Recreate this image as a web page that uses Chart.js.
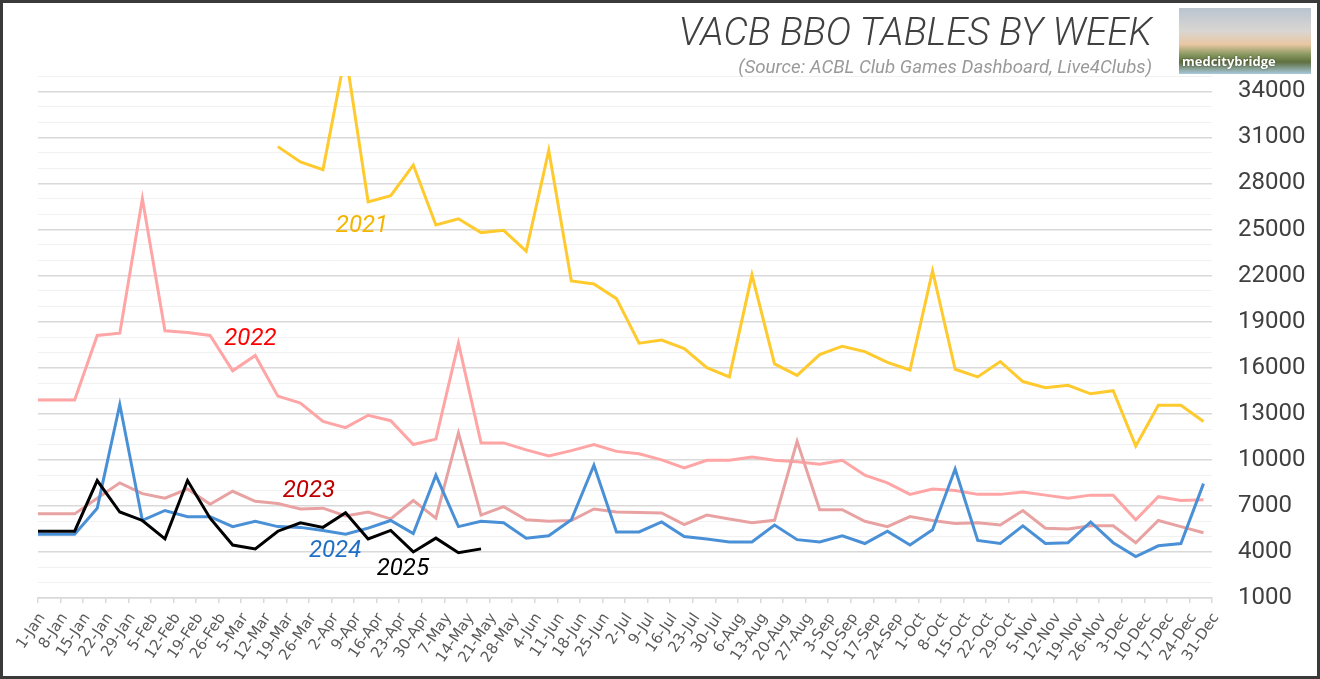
<!DOCTYPE html>
<html>
<head>
<meta charset="utf-8">
<title>VACB BBO Tables by Week</title>
<script src="https://cdn.jsdelivr.net/npm/chart.js@4.4.0/dist/chart.umd.min.js"></script>
<style>
  html, body { margin: 0; padding: 0; background: #fff; }
  #frame {
    position: relative; width: 1320px; height: 679px;
    box-sizing: border-box; border: 3px solid #3a3a3a;
    background: #fff; overflow: hidden;
  }
  #chart { position: absolute; left: 0; top: 0; }
  .title {
    position: absolute; right: 165px; top: 10px;
    font: italic 300 38.5px/38px Roboto, sans-serif; color: #404040;
    white-space: nowrap;
  }
  .source {
    position: absolute; right: 165px; top: 55px;
    font: italic 18.7px/19px Roboto, sans-serif; color: #9a9a9a;
    white-space: nowrap;
  }
  .logo {
    position: absolute; left: 1176px; top: 5px; width: 132px; height: 66px;
    background: linear-gradient(180deg, #b9c4d0 0%, #d9d6d2 35%, #e9c7a3 55%, #8a9a62 70%, #5f7040 82%, #a9c9dc 100%);
    overflow: hidden;
  }
  .logo span {
    position: absolute; left: 3px; bottom: 4px;
    font: bold 13px 'Open Sans', sans-serif; color: #fff;
    text-shadow: 0 0 2px rgba(0,0,0,0.5);
  }
</style>
</head>
<body>
<div id="frame">
  <canvas id="chart" width="1314" height="673"></canvas>
  <div class="title">VACB BBO TABLES BY WEEK</div>
  <div class="source">(Source: ACBL Club Games Dashboard, Live4Clubs)</div>
  <div class="logo"><span>medcitybridge</span></div>
</div>
<script>
// Week labels on the x axis
const weeks = ['1-Jan', '8-Jan', '15-Jan', '22-Jan', '29-Jan', '5-Feb', '12-Feb', '19-Feb', '26-Feb',
  '5-Mar', '12-Mar', '19-Mar', '26-Mar', '2-Apr', '9-Apr', '16-Apr', '23-Apr', '30-Apr',
  '7-May', '14-May', '21-May', '28-May', '4-Jun', '11-Jun', '18-Jun', '25-Jun',
  '2-Jul', '9-Jul', '16-Jul', '23-Jul', '30-Jul', '6-Aug', '13-Aug', '20-Aug', '27-Aug',
  '3-Sep', '10-Sep', '17-Sep', '24-Sep', '1-Oct', '8-Oct', '15-Oct', '22-Oct', '29-Oct',
  '5-Nov', '12-Nov', '19-Nov', '26-Nov', '3-Dec', '10-Dec', '17-Dec', '24-Dec', '31-Dec'];

// Labelled ticks on the right axis
const yTicks = [1000, 4000, 7000, 10000, 13000, 16000, 19000, 22000, 25000, 28000, 31000, 34000];

// Tables per week, one array per year (null = no data)
const t2021 = [null, null, null, null, null, null, null, null, null, null, null,
  30400, 29400, 28900, 36500, 26800, 27200, 29200, 25300, 25700, 24800, 24950, 23600, 30150, 21650, 21450,
  20500, 17600, 17800, 17250, 16000, 15400, 22050, 16250, 15500, 16850, 17400, 17050, 16350, 15850,
  22300, 15900, 15400, 16400, 15100, 14700, 14850, 14300, 14500, 10900, 13550, 13550, 12500];
const t2022 = [13900, 13900, 13900, 18100, 18250, 27000, 18400, 18300, 18100, 15800, 16800, 14150, 13700,
  12500, 12100, 12900, 12550, 11000, 11350, 17600, 11100, 11100, 10650, 10250, 10600, 11000,
  10550, 10400, 10000, 9480, 9970, 9970, 10190, 9970, 9870, 9710, 9970, 9000, 8500, 7750,
  8100, 8000, 7750, 7750, 7900, 7700, 7500, 7700, 7700, 6100, 7600, 7350, 7400];
const t2023 = [6480, 6480, 6480, 7500, 8500, 7800, 7500, 8100, 7100, 7950, 7300, 7150, 6800,
  6850, 6350, 6600, 6150, 7350, 6200, 11750, 6400, 6950, 6100, 6000, 6050, 6800,
  6600, 6570, 6540, 5780, 6400, 6150, 5900, 6060, 11200, 6750, 6750, 6000, 5650, 6300,
  6050, 5850, 5900, 5750, 6700, 5550, 5500, 5700, 5700, 4600, 6050, 5650, 5250];
const t2024 = [5150, 5150, 5150, 6850, 13600, 6050, 6700, 6300, 6300, 5650, 6000, 5650, 5600,
  5400, 5150, 5550, 6050, 5200, 9000, 5650, 6000, 5900, 4900, 5050, 6100, 9650,
  5300, 5300, 5950, 5000, 4850, 4650, 4650, 5750, 4800, 4650, 5050, 4550, 5350, 4450,
  5450, 9400, 4750, 4550, 5700, 4550, 4600, 5950, 4600, 3700, 4400, 4550, 8450];
const t2025 = [5350, 5350, 5350, 8650, 6600, 6050, 4850, 8650, 6200, 4450, 4200, 5350, 5900,
  5600, 6550, 4850, 5400, 4000, 4900, 3950, 4200];

const years = ['2025', '2024', '2023', '2022', '2021'];
const series = [t2025, t2024, t2023, t2022, t2021];
const colors = ['#000000', '#4a90d6', '#e8a2a2', '#ffa5a5', '#ffca2e'];

// each week's value sits a little before its date tick
const shift = 0.377;

// year names written next to the lines
const tags = [
  { text: '2021', at: 14.35, value: 25380, color: '#f4b400' },
  { text: '2022', at: 9.41, value: 18020, color: '#ff0000' },
  { text: '2023', at: 12.0, value: 8120, color: '#c00000' },
  { text: '2024', at: 13.16, value: 4210, color: '#1f6fc6' },
  { text: '2025', at: 16.16, value: 3040, color: '#000000' }
];

const yearTags = {
  id: 'yearTags',
  afterDatasetsDraw(chart) {
    const { ctx, scales } = chart;
    ctx.save();
    ctx.font = 'italic 24px Roboto';
    ctx.textAlign = 'center';
    ctx.textBaseline = 'alphabetic';
    tags.forEach(t => {
      ctx.fillStyle = t.color;
      ctx.fillText(t.text, scales.x.getPixelForValue(t.at), scales.y.getPixelForValue(t.value) + 8.5);
    });
    ctx.restore();
  }
};

const datasets = years.map((yr, k) => ({
  label: yr,
  data: series[k].map((v, i) => ({ x: i, y: v })),
  xAxisID: 'xd',
  yAxisID: 'y',
  borderColor: colors[k],
  borderWidth: 3,
  pointRadius: 0,
  tension: 0,
  fill: false
}));

const isMajor = v => yTicks.includes(v);

new Chart(document.getElementById('chart'), {
  type: 'line',
  data: { labels: weeks, datasets },
  options: {
    responsive: false,
    animation: false,
    layout: { padding: { left: 35, top: 73, right: 2, bottom: 2 } },
    plugins: { legend: { display: false }, tooltip: { enabled: false } },
    scales: {
      x: {
        type: 'category',
        offset: false,
        grid: { drawOnChartArea: false, drawTicks: true, tickLength: 5, color: '#d9d9d9', lineWidth: 1.5 },
        border: { display: true, color: '#d9d9d9', width: 1.5 },
        ticks: {
          autoSkip: false, maxRotation: 56, minRotation: 56, padding: 7, labelOffset: 4,
          color: '#595959', font: { family: 'DejaVu Sans', size: 15 }
        },
        afterFit: s => { s.height = 76; }
      },
      xd: { type: 'linear', display: false, min: shift, max: weeks.length - 1 + shift },
      y: {
        position: 'right',
        min: 1000,
        max: 35000,
        grid: {
          drawTicks: false,
          color: c => isMajor(c.tick.value) ? '#d9d9d9' : '#f1f1f1',
          lineWidth: c => isMajor(c.tick.value) ? 1.5 : 1
        },
        border: { display: false },
        ticks: {
          stepSize: 1000, autoSkip: false, padding: 26,
          color: '#404040', font: { family: 'Roboto', size: 24 },
          callback: v => isMajor(v) ? String(v) : ''
        },
        afterFit: s => { s.width = 103; }
      }
    }
  },
  plugins: [yearTags]
});
</script>
</body>
</html>
